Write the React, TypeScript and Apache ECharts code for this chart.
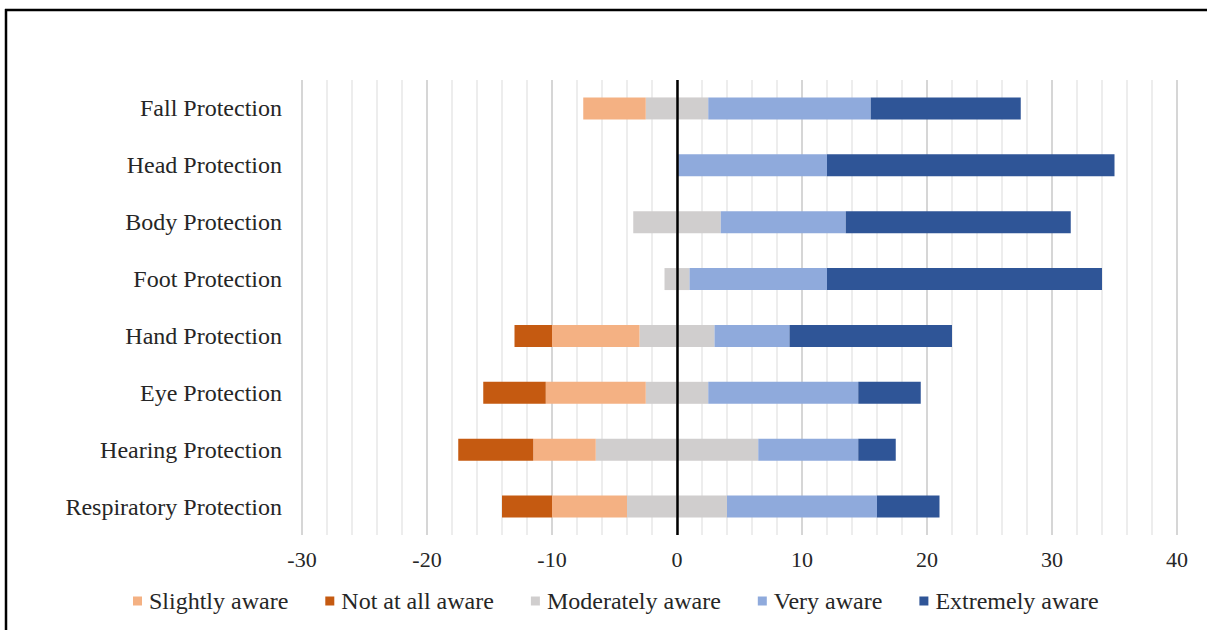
import React, { useEffect, useRef } from "react";
import * as echarts from "echarts";

const categories = [
  "Fall Protection",
  "Head Protection",
  "Body Protection",
  "Foot Protection",
  "Hand Protection",
  "Eye Protection",
  "Hearing Protection",
  "Respiratory Protection",
];
const slightlyAware = [5, 0, 0, 0, 7, 8, 5, 6];
const notAtAllAware = [0, 0, 0, 0, 3, 5, 6, 4];
const moderatelyAware = [5, 0, 7, 2, 6, 5, 13, 8];
const veryAware = [13, 12, 10, 11, 6, 12, 8, 12];
const extremelyAware = [12, 23, 18, 22, 13, 5, 3, 5];
const legendOrder = [
  "Slightly aware",
  "Not at all aware",
  "Moderately aware",
  "Very aware",
  "Extremely aware",
];

const FONT = "'Liberation Serif', 'Times New Roman', serif";
const C_SLIGHT = "#F4B183";
const C_NOT = "#C55A11";
const C_MOD = "#D0CECE";
const C_VERY = "#8FAADC";
const C_EXT = "#2F5597";

export default function App() {
  const ref = useRef<HTMLDivElement>(null);
  useEffect(() => {
    if (!ref.current) return;
    const chart = echarts.init(ref.current, null, { renderer: "svg" });
    const barW = 22;
    const base = { type: "bar" as const, stack: "total", barWidth: barW };
    chart.setOption({
      animation: false,
      backgroundColor: "#ffffff",
      textStyle: { fontFamily: FONT },
      grid: { left: 302, right: 30, top: 80, bottom: 95, containLabel: false },
      legend: {
        data: legendOrder,
        left: 128,
        top: 584,
        itemWidth: 9,
        itemHeight: 9,
        itemGap: 37,
        icon: "rect",
        textStyle: { fontFamily: FONT, fontSize: 24, color: "#262626", padding: [0, 0, 0, 2] },
      },
      xAxis: {
        type: "value",
        min: -30,
        max: 40,
        interval: 10,
        axisLine: { show: false },
        axisTick: { show: false },
        axisLabel: { fontFamily: FONT, fontSize: 22, color: "#262626", margin: 13 },
        splitLine: { show: true, lineStyle: { color: "#d6d6d6", width: 2 } },
        minorTick: { show: false, splitNumber: 5 },
        minorSplitLine: { show: true, lineStyle: { color: "#ededed", width: 2 } },
      },
      yAxis: {
        type: "category",
        data: categories,
        inverse: true,
        axisLine: { show: false },
        axisTick: { show: false },
        axisLabel: { fontFamily: FONT, fontSize: 24, color: "#262626", margin: 20 },
        splitLine: { show: false },
      },
      series: [
        { ...base, name: "Moderately aware", data: moderatelyAware.map((v) => -v / 2), itemStyle: { color: C_MOD } },
        { ...base, name: "Moderately aware", data: moderatelyAware.map((v) => v / 2), itemStyle: { color: C_MOD } },
        { ...base, name: "Slightly aware", data: slightlyAware.map((v) => -v), itemStyle: { color: C_SLIGHT } },
        { ...base, name: "Not at all aware", data: notAtAllAware.map((v) => -v), itemStyle: { color: C_NOT } },
        { ...base, name: "Very aware", data: veryAware, itemStyle: { color: C_VERY } },
        {
          ...base,
          name: "Extremely aware",
          data: extremelyAware,
          itemStyle: { color: C_EXT },
          markLine: {
            silent: true,
            symbol: ["none", "none"],
            label: { show: false },
            lineStyle: { color: "#000000", width: 2.5, type: "solid" },
            data: [{ xAxis: 0 }],
          },
        },
      ],
      graphic: [
        { type: "line", shape: { x1: 5, y1: 10, x2: 1207, y2: 10 }, style: { stroke: "#000", lineWidth: 2.5 } },
        { type: "line", shape: { x1: 6, y1: 9, x2: 6, y2: 630 }, style: { stroke: "#000", lineWidth: 2.5 } },
      ],
    });
    return () => chart.dispose();
  }, []);
  return (
    <div
      ref={ref}
      style={{ position: "fixed", left: 0, top: 0, width: 1207, height: 630 }}
    />
  );
}
